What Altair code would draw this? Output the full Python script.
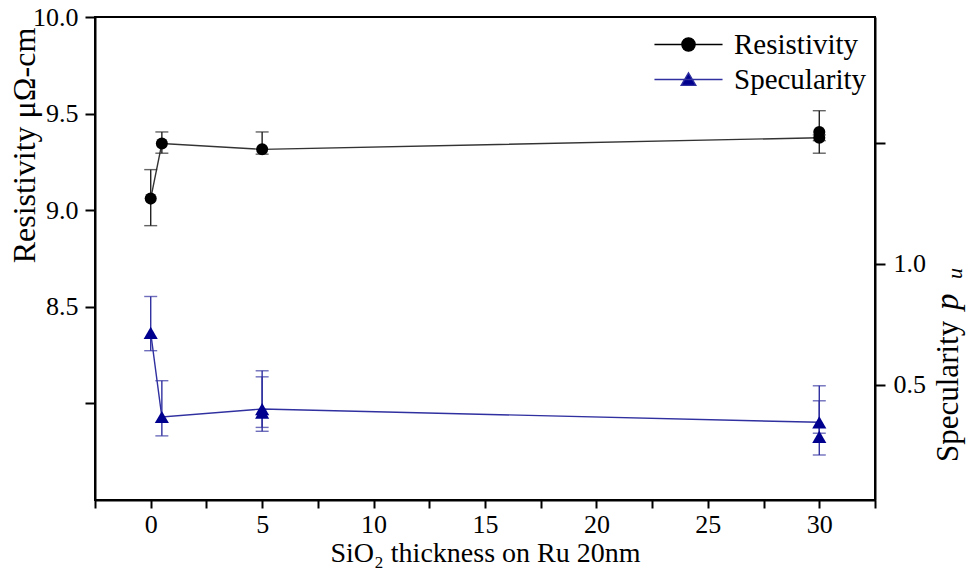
import altair as alt
import pandas as pd

# ---------------- data ----------------
res_x = [0, 0.5, 5, 30, 30]
res_y = [9.06, 9.345, 9.315, 9.375, 9.405]
res_on_line = [True, True, True, True, False]
res_err_lo = [8.92, 9.295, 9.29, 9.36, 9.295]
res_err_hi = [9.21, 9.405, 9.405, 9.39, 9.515]

spec_x = [0, 0.5, 5, 5, 30, 30]
spec_y = [0.715, 0.367, 0.40, 0.385, 0.345, 0.285]
spec_on_line = [True, True, True, False, True, False]
spec_err_lo = [0.641, 0.289, 0.324, 0.308, 0.30, 0.21]
spec_err_hi = [0.865, 0.517, 0.558, 0.533, 0.496, 0.434]

legend_series = ["Resistivity", "Specularity"]

x_ticks = [-2.5, 0, 2.5, 5, 7.5, 10, 12.5, 15, 17.5, 20, 22.5, 25, 27.5, 30, 32.5]
res_ticks = [8.0, 8.5, 9.0, 9.5, 10.0]
spec_ticks = [0.5, 1.0, 1.5]

x_title = "SiO₂ thickness on Ru 20nm"
res_title = "Resistivity μΩ-cm"
spec_title_main = ["Specularity"]
spec_title_p = ["p"]
spec_title_u = ["u"]

res_df = pd.DataFrame({"x": res_x, "y": res_y, "line": res_on_line,
                       "lo": res_err_lo, "hi": res_err_hi})
spec_df = pd.DataFrame({"x": spec_x, "y": spec_y, "line": spec_on_line,
                        "lo": spec_err_lo, "hi": spec_err_hi})

FONT = "Liberation Serif"
BLACK = "#000000"
RES_LINE = "#333333"
NAVY = "#00008f"
NAVY_LINE = "#3030a0"

# ---------------- shared encodings ----------------
x_enc = alt.X(
    "x:Q",
    scale=alt.Scale(domain=[-2.5, 32.5], nice=False, zero=False),
    axis=alt.Axis(
        values=x_ticks,
        labelExpr="datum.value % 5 == 0 ? datum.label : ''",
        labelFont=FONT,
        labelFontSize=26,
        title=x_title,
        titleFont=FONT,
        tickSize=8,
        labelPadding=3,
        titlePadding=2,
        titleFontSize=28,
    ),
)

res_scale = alt.Scale(domain=[7.5, 10.0], nice=False, zero=False)
res_axis = alt.Axis(
    values=res_ticks,
    format=".1f",
    labelExpr="datum.value < 8.25 ? '' : datum.label",
    labelFont=FONT,
    labelFontSize=26,
    title=res_title,
    titleFont=FONT,
    titleX=-61,
    titleY=128,
    titleAngle=270,
    titleAlign="center",
    titleBaseline="alphabetic",
    titleFontSize=32,
    tickSize=10,
    labelPadding=7,
    orient="left",
)

spec_scale = alt.Scale(domain=[0.024, 2.02], nice=False, zero=False)
spec_axis = alt.Axis(
    values=spec_ticks,
    format=".1f",
    labelExpr="datum.value > 1.25 ? '' : datum.label",
    labelFont=FONT,
    labelFontSize=26,
    title="",
    tickSize=10,
    labelPadding=8,
    orient="right",
)


def group(df, scale, axis, line_color, err_color, point_color, shape, size):
    base = alt.Chart(df)
    line = base.mark_line(color=line_color, strokeWidth=1.4).transform_filter(
        "datum.line"
    ).encode(x=x_enc, y=alt.Y("y:Q", scale=scale, axis=axis), order="x:Q")
    rule = base.mark_rule(color=err_color, strokeWidth=1.4).encode(
        x=x_enc, y=alt.Y("lo:Q", scale=scale, axis=axis), y2="hi:Q"
    )
    cap_lo = base.mark_tick(color=err_color, orient="horizontal", size=13,
                            thickness=1.4).encode(
        x=x_enc, y=alt.Y("lo:Q", scale=scale, axis=axis))
    cap_hi = base.mark_tick(color=err_color, orient="horizontal", size=13,
                            thickness=1.4).encode(
        x=x_enc, y=alt.Y("hi:Q", scale=scale, axis=axis))
    pts = base.mark_point(filled=True, shape=shape, size=size, color=point_color,
                          opacity=1).encode(
        x=x_enc, y=alt.Y("y:Q", scale=scale, axis=axis))
    return alt.layer(line, rule, cap_lo, cap_hi, pts)


res_group = group(res_df, res_scale, res_axis, RES_LINE, "#222222", BLACK,
                  "circle", 145)
spec_group = group(spec_df, spec_scale, spec_axis, NAVY_LINE, NAVY_LINE, NAVY,
                   "triangle-up", 200)

# ---------------- legend (via real Vega legend) ----------------
circle_path = ("M-1.84,0H1.84M0.36,0A0.36,0.36,0,1,1,-0.36,0"
               "A0.36,0.36,0,1,1,0.36,0Z")
tri_path = "M-1.84,0H1.84M0,-0.36L0.4,0.32L-0.4,0.32Z"

leg = alt.Legend(
    title=None,
    orient="none",
    legendX=574,
    legendY=8,
    padding=0,
    symbolSize=1369,
    symbolStrokeWidth=1.3,
    labelFont=FONT,
    labelFontSize=29,
    labelColor=BLACK,
    labelOffset=26,
    labelBaseline="middle",
    rowPadding=0,
)
legend_layer = alt.Chart(pd.DataFrame({"series": legend_series})).mark_point(
    filled=True, opacity=1
).transform_filter("false").encode(
    fill=alt.Fill("series:N", scale=alt.Scale(domain=legend_series,
                                              range=[BLACK, NAVY]), legend=leg),
    stroke=alt.Stroke("series:N", scale=alt.Scale(domain=legend_series,
                                                  range=[BLACK, NAVY_LINE]),
                      legend=leg),
    shape=alt.Shape("series:N", scale=alt.Scale(domain=legend_series,
                                                range=[circle_path, tri_path]),
                    legend=leg),
)

# ---------------- right axis title with italic p_u ----------------
t_main = alt.Chart(pd.DataFrame({"t": spec_title_main})).mark_text(
    angle=270, align="left", baseline="alphabetic", font=FONT, fontSize=31,
    color=BLACK
).encode(text="t:N", x=alt.value(863), y=alt.value(445))
t_p = alt.Chart(pd.DataFrame({"t": spec_title_p})).mark_text(
    angle=270, align="left", baseline="alphabetic", font=FONT, fontSize=33,
    fontStyle="italic", color=BLACK
).encode(text="t:N", x=alt.value(863), y=alt.value(293))
t_u = alt.Chart(pd.DataFrame({"t": spec_title_u})).mark_text(
    angle=270, align="left", baseline="alphabetic", font=FONT, fontSize=22,
    fontStyle="italic", color=BLACK
).encode(text="t:N", x=alt.value(867), y=alt.value(262))

chart = alt.layer(res_group, spec_group, legend_layer, t_main, t_p, t_u).resolve_scale(
    y="independent"
).properties(
    width=780,
    height=483,
    autosize=alt.AutoSizeParams(type="none"),
    padding={"left": 95, "top": 17, "right": 93, "bottom": 82},
).configure(
    background="white"
).configure_view(
    stroke=BLACK, strokeWidth=2
).configure_axis(
    grid=False,
    labelFont=FONT,
    labelFontSize=26,
    labelColor=BLACK,
    titleFont=FONT,
    titleFontWeight="normal",
    titleColor=BLACK,
    tickColor=BLACK,
    tickWidth=2,
    domainColor=BLACK,
    domainWidth=2,
)

chart.save("out.html", embed_options={"renderer": "svg", "actions": False})
